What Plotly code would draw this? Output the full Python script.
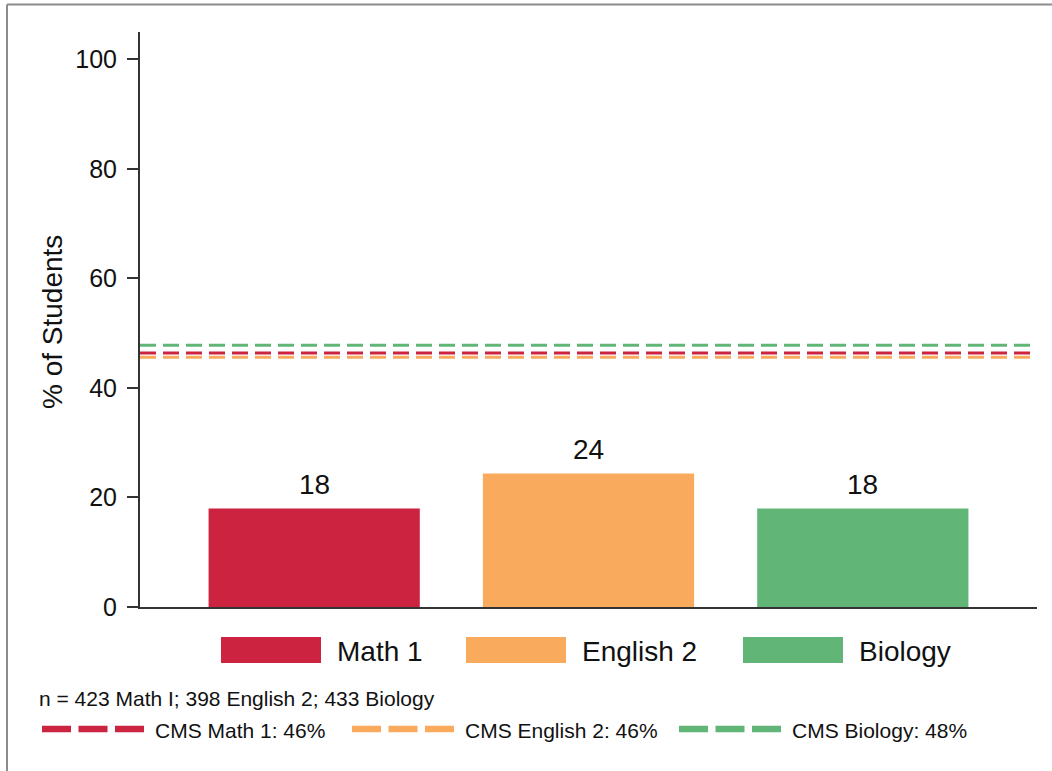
import plotly.graph_objects as go

# ---- data ----
categories = ["Math 1", "English 2", "Biology"]
pct_students = [18.0, 24.4, 18.0]
cms_labels = ["CMS Math 1", "CMS English 2", "CMS Biology"]
cms_values = [46.4, 45.6, 47.8]
colors = ["#CB2340", "#F9AA5D", "#61B577"]
y_ticks = [0, 20, 40, 60, 80, 100]
footnote = "n = 423 Math I; 398 English 2; 433 Biology"

FONT = "Liberation Sans, Arial, sans-serif"
W, H = 1052, 771
L, R, T, B = 140, 1037, 32, 607


def px(x):
    return (x - L) / (R - L)


def py(y):
    return (B - y) / (B - T)


fig = go.Figure()
fig.add_trace(go.Bar(
    x=categories, y=pct_students, marker=dict(color=colors, line=dict(width=0)),
    width=0.77, showlegend=False, hoverinfo="skip",
))

annotations = []
shapes = []

# value labels
for c, v in zip(categories, pct_students):
    annotations.append(dict(x=c, y=v, xref="x", yref="y", text=f"{round(v)}",
                            showarrow=False, yanchor="middle", yshift=24,
                            font=dict(family=FONT, size=28, color="#111")))

# CMS reference lines
for v, col in zip(cms_values, colors):
    shapes.append(dict(type="line", xref="paper", yref="y", x0=0, x1=1, y0=v, y1=v,
                       line=dict(color=col, width=3, dash="16px,7px")))

# outer frame (left + top edges visible)
shapes.append(dict(type="line", xref="paper", yref="paper", x0=px(7), x1=px(7),
                   y0=py(H), y1=py(4.5), line=dict(color="#8c8c8c", width=2)))
shapes.append(dict(type="line", xref="paper", yref="paper", x0=px(7), x1=px(W),
                   y0=py(4.5), y1=py(4.5), line=dict(color="#8c8c8c", width=2)))

# bar legend
sw_x = [221, 466, 743]
for cat, col, x0 in zip(categories, colors, sw_x):
    shapes.append(dict(type="rect", xref="paper", yref="paper",
                       x0=px(x0), x1=px(x0 + 100), y0=py(663), y1=py(637),
                       fillcolor=col, line=dict(width=0)))
    annotations.append(dict(xref="paper", yref="paper", x=px(x0 + 114), y=py(651),
                            text=cat, showarrow=False, xanchor="left", yanchor="middle",
                            font=dict(family=FONT, size=28, color="#111")))

# footnote
annotations.append(dict(xref="paper", yref="paper", x=px(37), y=py(698),
                        text=footnote, showarrow=False, xanchor="left", yanchor="middle",
                        font=dict(family=FONT, size=21, color="#111")))

# CMS legend
dash_x = [42, 352, 679]
for lab, v, col, x0 in zip(cms_labels, cms_values, colors, dash_x):
    shapes.append(dict(type="line", xref="paper", yref="paper",
                       x0=px(x0), x1=px(x0 + 102), y0=py(729), y1=py(729),
                       line=dict(color=col, width=6.5, dash="29px,7.5px")))
    annotations.append(dict(xref="paper", yref="paper", x=px(x0 + 111), y=py(730),
                            text=f"{lab}: {round(v)}%", showarrow=False,
                            xanchor="left", yanchor="middle",
                            font=dict(family=FONT, size=21, color="#111")))

# y axis title
annotations.append(dict(xref="paper", yref="paper", x=px(52), y=py(322),
                        text="% of Students", textangle=-90, showarrow=False,
                        xanchor="center", yanchor="middle",
                        font=dict(family=FONT, size=28, color="#111")))

fig.update_layout(
    width=W, height=H,
    margin=dict(l=L, r=W - R, t=T, b=H - B, pad=0),
    paper_bgcolor="white", plot_bgcolor="white",
    shapes=shapes, annotations=annotations,
    font=dict(family=FONT, color="#111"),
    xaxis=dict(range=[-0.635, 2.635], showticklabels=False, ticks="",
               showgrid=False, zeroline=False, showline=True,
               linecolor="#333", linewidth=2, fixedrange=True),
    yaxis=dict(range=[0, 105], tickvals=y_ticks, ticks="outside", ticklen=11,
               tickwidth=2, tickcolor="#333", showgrid=False, zeroline=False,
               showline=True, linecolor="#333", linewidth=2, ticklabelstandoff=5,
               tickfont=dict(family=FONT, size=25, color="#111"), fixedrange=True),
)

fig.write_html("out.html", config={"displayModeBar": False},
               post_script="document.body.style.margin='0px';document.body.style.overflow='hidden';")
